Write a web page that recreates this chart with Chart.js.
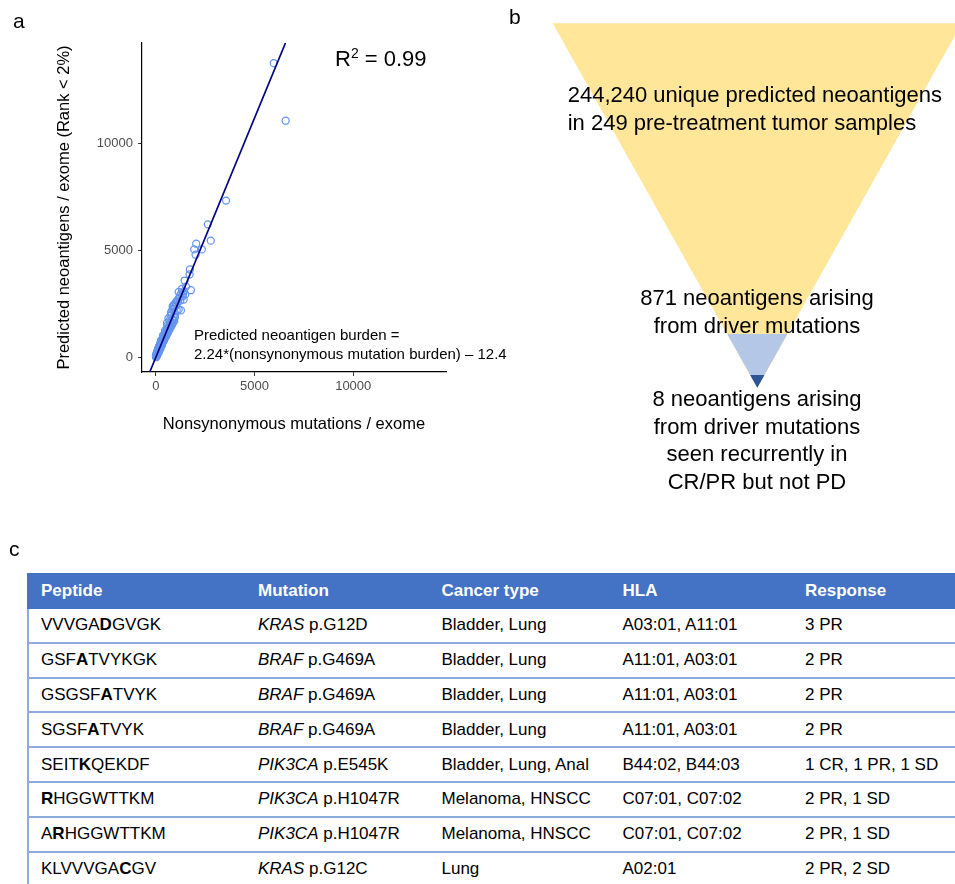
<!DOCTYPE html>
<html>
<head>
<meta charset="utf-8">
<script src="https://cdn.jsdelivr.net/npm/chart.js@4.4.1/dist/chart.umd.min.js"></script>
<style>
body { margin: 0; background: #fff; font-family: "Liberation Sans", Arial, Helvetica, sans-serif; }
#fig { position: relative; width: 955px; height: 884px; overflow: hidden; background: #fff; }
canvas { position: absolute; }
.txt { position: absolute; white-space: nowrap; color: #000; }
.panel { font-size: 21px; line-height: 24px; }
.funnel { font-size: 22px; line-height: 27.6px; }
#tbl { position: absolute; left: 27px; top: 573px; border-collapse: separate; border-spacing: 0; table-layout: fixed; width: 1000px; font-size: 17px; }
#tbl th { box-sizing: border-box; height: 36px; background: #4472C4; color: #fff; font-weight: bold; text-align: left; padding: 0 0 0 14px; }
#tbl td { box-sizing: border-box; height: 34.8px; padding: 0 0 0 14px; border-bottom: 2px solid #8FAADC; white-space: nowrap; }
#tbl td:first-child { border-left: 2px solid #8FAADC; padding-left: 12px; }
</style>
</head>
<body>
<div id="fig">
  <canvas id="scatterChart" width="480" height="450" style="left:0;top:0"></canvas>
  <canvas id="funnelChart" width="455" height="500" style="left:500px;top:0"></canvas>

  <div class="txt panel" style="left:13px;top:9px">a</div>
  <div class="txt panel" style="left:509px;top:5px">b</div>
  <div class="txt panel" style="left:9px;top:537px">c</div>

  <div class="txt" style="left:335px;top:47px;font-size:22px;line-height:24px">R<span style="font-size:14px;position:relative;top:-8px">2</span> = 0.99</div>
  <div class="txt" style="left:194px;top:325px;font-size:15px;line-height:19px">Predicted neoantigen burden =<br>2.24*(nonsynonymous mutation burden) – 12.4</div>

  <div id="funnelText"></div>
  <table id="tbl"></table>
</div>

<script>
// panel a - one point per pre-treatment sample [nonsynonymous mutations, predicted neoantigens]
const samples = [
  [4,22],[9,64],[11,-8],[16,38],[19,92],[23,15],[26,71],[30,128],[34,48],[37,103],[41,160],[43,30],
  [48,122],[51,188],[54,79],[59,146],[61,214],[65,98],[69,171],[72,236],[74,117],[79,190],[83,262],
  [86,139],[90,225],[94,291],[97,168],[102,243],[105,318],[109,186],[114,276],[118,352],[121,212],
  [126,301],[131,377],[134,239],[139,338],[144,412],[148,265],[152,371],[157,448],[160,299],[166,402],
  [170,470],[174,331],[179,441],[184,519],[188,370],[193,468],[199,552],[203,401],[209,505],[214,596],
  [220,438],[226,548],[233,641],[238,472],[245,587],[250,682],[257,510],[263,628],[271,722],[278,556],
  [284,671],[292,771],[299,598],[307,707],[314,815],[322,640],[330,761],[339,864],[348,688],[356,807],
  [366,918],[375,730],[385,862],[395,972],[404,790],[414,911],[425,1030],[436,842],[447,972],[458,1090],
  [469,901],[481,1031],[493,1152],[505,962],[517,1098],[530,1221],[544,1030],[558,1165],[572,1290],
  [587,1103],[602,1238],[617,1375],[633,1185],[649,1318],[666,1462],[683,1270],[700,1410],[717,1548],
  [735,1362],[754,1505],[773,1650],[793,1458],[814,1612],[836,1768],[858,1565],[882,1722],[905,1890],
  [931,1680],[957,1850],[986,2020],
  [140,210],[230,380],[320,560],[410,770],[520,980],[150,470],[260,780],[365,1010],[470,1250],[575,1470],
  [569,1596],[636,1812],[690,1720],[742,1940],[770,2094],[805,2010],[830,2210],[855,2376],[880,2260],
  [902,2430],[936,2441],[955,2320],[972,1878],[1005,2560],[1040,2470],[1060,2180],[1085,2650],[1120,2580],
  [1158,2230],[1180,2760],[1210,2860],[1240,2640],[1274,2188],[1290,2990],[1324,3192],[1359,2845],
  [1380,2950],[1410,2690],[1430,3080],[1490,2925],[1460,3582],[1530,3300],[1158,3052],[1777,3127],
  [1712,3864],[1727,4099],[2014,4789],[1944,5038],[2331,5038],[2045,5305],[2785,5446],[2633,6211],
  [3555,7324],[5972,13756],[6577,11061]
];
const fitSlope = 2.24;
const fitIntercept = -12.4;
const axisTicks = [0, 5000, 10000];
const axisMin = -700;
const axisMax = 14700;

// panel b - funnel bands, top to bottom (depth 0 = top edge, 1 = tip)
const funnelLabels = [
  ['244,240 unique predicted neoantigens', 'in 249 pre-treatment tumor samples'],
  ['871 neoantigens arising', 'from driver mutations'],
  ['8 neoantigens arising', 'from driver mutations', 'seen recurrently in', 'CR/PR but not PD']
];
const funnelDepth = [0, 0.853, 0.965];
const funnelColors = ['#FFE699', '#B4C7E7', '#2F5597'];

// panel c - table
const tableHeaders = ['Peptide', 'Mutation', 'Cancer type', 'HLA', 'Response'];
const peptides = ['VVVGADGVGK', 'GSFATVYKGK', 'GSGSFATVYK', 'SGSFATVYK', 'SEITKQEKDF', 'RHGGWTTKM', 'ARHGGWTTKM', 'KLVVVGACGV'];
const mutatedResidue = [5, 3, 5, 4, 4, 0, 1, 7];
const genes = ['KRAS', 'BRAF', 'BRAF', 'BRAF', 'PIK3CA', 'PIK3CA', 'PIK3CA', 'KRAS'];
const proteinChanges = ['p.G12D', 'p.G469A', 'p.G469A', 'p.G469A', 'p.E545K', 'p.H1047R', 'p.H1047R', 'p.G12C'];
const cancerTypes = ['Bladder, Lung', 'Bladder, Lung', 'Bladder, Lung', 'Bladder, Lung', 'Bladder, Lung, Anal', 'Melanoma, HNSCC', 'Melanoma, HNSCC', 'Lung'];
const hlaAlleles = ['A03:01, A11:01', 'A11:01, A03:01', 'A11:01, A03:01', 'A11:01, A03:01', 'B44:02, B44:03', 'C07:01, C07:02', 'C07:01, C07:02', 'A02:01'];
const responses = ['3 PR', '2 PR', '2 PR', '2 PR', '1 CR, 1 PR, 1 SD', '2 PR, 1 SD', '2 PR, 1 SD', '2 PR, 2 SD'];
const colWidths = [217, 183.5, 181, 182.5, 236];

Chart.defaults.font.family = '"Liberation Sans", Arial, Helvetica, sans-serif';

// ---- panel a
const fitX = [(axisMin - fitIntercept) / fitSlope, (axisMax - fitIntercept) / fitSlope];
const axisBase = {
  type: 'linear',
  min: axisMin,
  max: axisMax,
  afterBuildTicks: s => { s.ticks = axisTicks.map(v => ({ value: v })); },
  ticks: { callback: v => String(v), color: '#4d4d4d', font: { size: 13 }, maxRotation: 0 },
  grid: { drawOnChartArea: false, drawTicks: true, tickLength: 4, tickColor: '#333', tickWidth: 1 },
  border: { display: true, color: '#000', width: 1.2 }
};

new Chart(document.getElementById('scatterChart'), {
  type: 'scatter',
  data: {
    datasets: [
      {
        type: 'line',
        data: fitX.map(x => ({ x: x, y: fitSlope * x + fitIntercept })),
        borderColor: 'navy',
        borderWidth: 1.7,
        pointRadius: 0,
        fill: false
      },
      {
        data: samples.map(s => ({ x: s[0], y: s[1] })),
        borderColor: 'rgb(100,149,237)',
        backgroundColor: 'rgba(0,0,0,0)',
        borderWidth: 1.25,
        pointRadius: 3.5
      }
    ]
  },
  options: {
    responsive: false,
    animation: false,
    layout: { padding: { left: 0, top: 43, right: 34, bottom: 0 } },
    plugins: { legend: { display: false }, tooltip: { enabled: false } },
    scales: {
      x: Object.assign({}, axisBase, {
        afterFit: s => { s.height = 78; },
        ticks: Object.assign({}, axisBase.ticks, { padding: 3 }),
        title: { display: true, text: 'Nonsynonymous mutations / exome', color: '#000', font: { size: 16.5 }, padding: { top: 0, bottom: 16 } }
      }),
      y: Object.assign({}, axisBase, {
        afterFit: s => { s.width = 142; },
        ticks: Object.assign({}, axisBase.ticks, { padding: 5 }),
        title: { display: true, text: 'Predicted neoantigens / exome (Rank < 2%)', color: '#000', font: { size: 16.5 }, padding: { top: 55, bottom: 0 } }
      })
    }
  }
});

// ---- panel b
new Chart(document.getElementById('funnelChart'), {
  type: 'line',
  data: {
    datasets: funnelDepth.map((d, i) => ({
      data: [{ x: -(1 - d), y: d }, { x: 0, y: 1 }, { x: 1 - d, y: d }],
      fill: { value: d },
      backgroundColor: funnelColors[i],
      borderWidth: 0,
      pointRadius: 0
    })).reverse()
  },
  options: {
    responsive: false,
    animation: false,
    layout: { padding: 0 },
    plugins: { legend: { display: false }, tooltip: { enabled: false } },
    scales: {
      x: { type: 'linear', display: false, min: -1.2576, max: 0.9663 },
      y: { type: 'linear', display: false, reverse: true, min: -0.0639, max: 1.3082 }
    }
  }
});

const funnelBox = [
  { left: 567.7, top: 81.2, align: 'left' },
  { left: 557, top: 284, align: 'center' },
  { left: 557, top: 385.2, align: 'center' }
];
const ft = document.getElementById('funnelText');
funnelLabels.forEach((lines, i) => {
  const d = document.createElement('div');
  d.className = 'txt funnel';
  d.style.left = funnelBox[i].left + 'px';
  d.style.top = funnelBox[i].top + 'px';
  d.style.textAlign = funnelBox[i].align;
  if (funnelBox[i].align === 'center') d.style.width = '400px';
  d.innerHTML = lines.join('<br>');
  ft.appendChild(d);
});

// ---- panel c
const tbl = document.getElementById('tbl');
let html = '<colgroup>' + colWidths.map(w => '<col style="width:' + w + 'px">').join('') + '</colgroup>';
html += '<tr>' + tableHeaders.map(h => '<th>' + h + '</th>').join('') + '</tr>';
peptides.forEach((p, i) => {
  const k = mutatedResidue[i];
  const pep = p.slice(0, k) + '<b>' + p[k] + '</b>' + p.slice(k + 1);
  html += '<tr><td>' + pep + '</td><td><i>' + genes[i] + '</i> ' + proteinChanges[i] + '</td><td>' +
    cancerTypes[i] + '</td><td>' + hlaAlleles[i] + '</td><td>' + responses[i] + '</td></tr>';
});
tbl.innerHTML = html;
</script>
</body>
</html>
